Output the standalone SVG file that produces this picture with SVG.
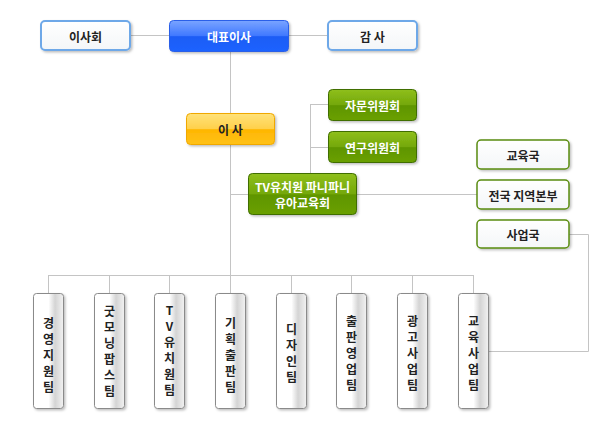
<svg xmlns="http://www.w3.org/2000/svg" width="610" height="430" viewBox="0 0 610 430">
<defs>
<linearGradient id="gBlue" x1="0" y1="0" x2="0" y2="1"><stop offset="0" stop-color="#7aa4ff"/><stop offset="0.5" stop-color="#3f78ff"/><stop offset="0.52" stop-color="#1a5cf5"/><stop offset="1" stop-color="#1f63ff"/></linearGradient>
<linearGradient id="gYel" x1="0" y1="0" x2="0" y2="1"><stop offset="0" stop-color="#ffe27a"/><stop offset="0.5" stop-color="#ffd04a"/><stop offset="0.52" stop-color="#ffb600"/><stop offset="1" stop-color="#ffc21a"/></linearGradient>
<linearGradient id="gGreen" x1="0" y1="0" x2="0" y2="1"><stop offset="0" stop-color="#8fbf1c"/><stop offset="0.5" stop-color="#74a80a"/><stop offset="0.52" stop-color="#5f9500"/><stop offset="1" stop-color="#6aa004"/></linearGradient>
<linearGradient id="gWhite" x1="0" y1="0" x2="0" y2="1"><stop offset="0" stop-color="#ffffff"/><stop offset="1" stop-color="#f4f6f8"/></linearGradient>
<linearGradient id="gTeam" x1="0" y1="0" x2="1" y2="0"><stop offset="0" stop-color="#ffffff"/><stop offset="0.5" stop-color="#ffffff"/><stop offset="0.72" stop-color="#d4d4d4"/><stop offset="1" stop-color="#f2f2f2"/></linearGradient>
<filter id="sh" x="-20%" y="-20%" width="150%" height="150%"><feDropShadow dx="1.5" dy="1.5" stdDeviation="1" flood-color="#000" flood-opacity="0.25"/></filter>
</defs>
<style>
text{font-family:"Noto Sans CJK KR","Noto Sans",sans-serif;font-size:12px;font-weight:bold;text-anchor:middle;dominant-baseline:central}
.line{stroke:#c4c4c4;stroke-width:1;fill:none}
.wb{fill:url(#gWhite);stroke:#6ea8e8;stroke-width:2;filter:url(#sh)}
.bl{fill:url(#gBlue);stroke:#2a5ee8;stroke-width:1;filter:url(#sh)}
.yl{fill:url(#gYel);stroke:#f0a800;stroke-width:1;filter:url(#sh)}
.gr{fill:url(#gGreen);stroke:#3f6e00;stroke-width:1;filter:url(#sh)}
.gw{fill:url(#gWhite);stroke:#5a8c10;stroke-width:1.5;filter:url(#sh)}
.tm{fill:url(#gTeam);stroke:#8a8a8a;stroke-width:1;filter:url(#sh)}
.wt{fill:#ffffff}
.dk{fill:#222222}
</style>
<g id="connectors">
<path class="line" d="M130,35.5H328"/>
<path class="line" d="M230.5,52V275"/>
<path class="line" d="M230,194.5H248"/>
<path class="line" d="M310.5,104V173"/>
<path class="line" d="M310,104.5H328M310,147.5H328"/>
<path class="line" d="M357,194.5H477"/>
<path class="line" d="M48.5,275.5H473.5"/>
<path class="line" d="M48.5,275V293M109.5,275V293M169.5,275V293M230.5,275V293M291.5,275V293M351.5,275V293M412.5,275V293M473.5,275V293"/>
<path class="line" d="M569,234.5H588.5V351.5H488"/>
</g>
<g id="n-board"><rect class="wb" x="41" y="21" width="89" height="29" rx="4"/><text class="dk" x="85.5" y="36">이사회</text></g>
<g id="n-ceo"><rect class="bl" x="169.5" y="20.5" width="119" height="31" rx="4"/><text class="wt" x="229" y="36">대표이사</text></g>
<g id="n-audit"><rect class="wb" x="328" y="21" width="89" height="29" rx="4"/><text class="dk" x="372.5" y="36">감 사</text></g>
<g id="n-director"><rect class="yl" x="186.5" y="113.5" width="88" height="31" rx="4"/><text class="dk" x="230.5" y="129.5">이 사</text></g>
<g id="n-advisory"><rect class="gr" x="328.5" y="89.5" width="88" height="31" rx="4"/><text class="wt" x="372.5" y="105">자문위원회</text></g>
<g id="n-research"><rect class="gr" x="328.5" y="131.5" width="88" height="31" rx="4"/><text class="wt" x="372.5" y="147">연구위원회</text></g>
<g id="n-tv"><rect class="gr" x="248.5" y="173.5" width="108" height="41" rx="4"/><text class="wt" x="302.5" y="186">TV유치원 파니파니</text><text class="wt" x="302.5" y="202.5">유아교육회</text></g>
<g id="n-edu"><rect class="gw" x="477" y="140" width="92" height="29" rx="4"/><text class="dk" x="523" y="155">교육국</text></g>
<g id="n-region"><rect class="gw" x="477" y="180" width="92" height="29" rx="4"/><text class="dk" x="523" y="195">전국 지역본부</text></g>
<g id="n-biz"><rect class="gw" x="477" y="220" width="92" height="28" rx="4"/><text class="dk" x="523" y="234.5">사업국</text></g>
<g id="t1"><rect class="tm" x="33.5" y="293.5" width="30" height="115" rx="3"/><text class="dk" x="48.5"><tspan x="48.5" y="322">경</tspan><tspan x="48.5" y="338">영</tspan><tspan x="48.5" y="354">지</tspan><tspan x="48.5" y="370">원</tspan><tspan x="48.5" y="386">팀</tspan></text></g>
<g id="t2"><rect class="tm" x="94.5" y="293.5" width="30" height="115" rx="3"/><text class="dk" x="109.5"><tspan x="109.5" y="310">굿</tspan><tspan x="109.5" y="326">모</tspan><tspan x="109.5" y="342">닝</tspan><tspan x="109.5" y="358">팝</tspan><tspan x="109.5" y="374">스</tspan><tspan x="109.5" y="390">팀</tspan></text></g>
<g id="t3"><rect class="tm" x="154.5" y="293.5" width="30" height="115" rx="3"/><text class="dk" x="169.5"><tspan x="169.5" y="309">T</tspan><tspan x="169.5" y="325">V</tspan><tspan x="169.5" y="341">유</tspan><tspan x="169.5" y="357">치</tspan><tspan x="169.5" y="373">원</tspan><tspan x="169.5" y="389">팀</tspan></text></g>
<g id="t4"><rect class="tm" x="215.5" y="293.5" width="30" height="115" rx="3"/><text class="dk" x="230.5"><tspan x="230.5" y="322">기</tspan><tspan x="230.5" y="338">획</tspan><tspan x="230.5" y="354">출</tspan><tspan x="230.5" y="370">판</tspan><tspan x="230.5" y="386">팀</tspan></text></g>
<g id="t5"><rect class="tm" x="276.5" y="293.5" width="30" height="115" rx="3"/><text class="dk" x="291.5"><tspan x="291.5" y="328">디</tspan><tspan x="291.5" y="344">자</tspan><tspan x="291.5" y="360">인</tspan><tspan x="291.5" y="376">팀</tspan></text></g>
<g id="t6"><rect class="tm" x="336.5" y="293.5" width="30" height="115" rx="3"/><text class="dk" x="351.5"><tspan x="351.5" y="320">출</tspan><tspan x="351.5" y="336">판</tspan><tspan x="351.5" y="352">영</tspan><tspan x="351.5" y="368">업</tspan><tspan x="351.5" y="384">팀</tspan></text></g>
<g id="t7"><rect class="tm" x="397.5" y="293.5" width="30" height="115" rx="3"/><text class="dk" x="412.5"><tspan x="412.5" y="320">광</tspan><tspan x="412.5" y="336">고</tspan><tspan x="412.5" y="352">사</tspan><tspan x="412.5" y="368">업</tspan><tspan x="412.5" y="384">팀</tspan></text></g>
<g id="t8"><rect class="tm" x="458.5" y="293.5" width="30" height="115" rx="3"/><text class="dk" x="473.5"><tspan x="473.5" y="320">교</tspan><tspan x="473.5" y="336">육</tspan><tspan x="473.5" y="352">사</tspan><tspan x="473.5" y="368">업</tspan><tspan x="473.5" y="384">팀</tspan></text></g>
</svg>
